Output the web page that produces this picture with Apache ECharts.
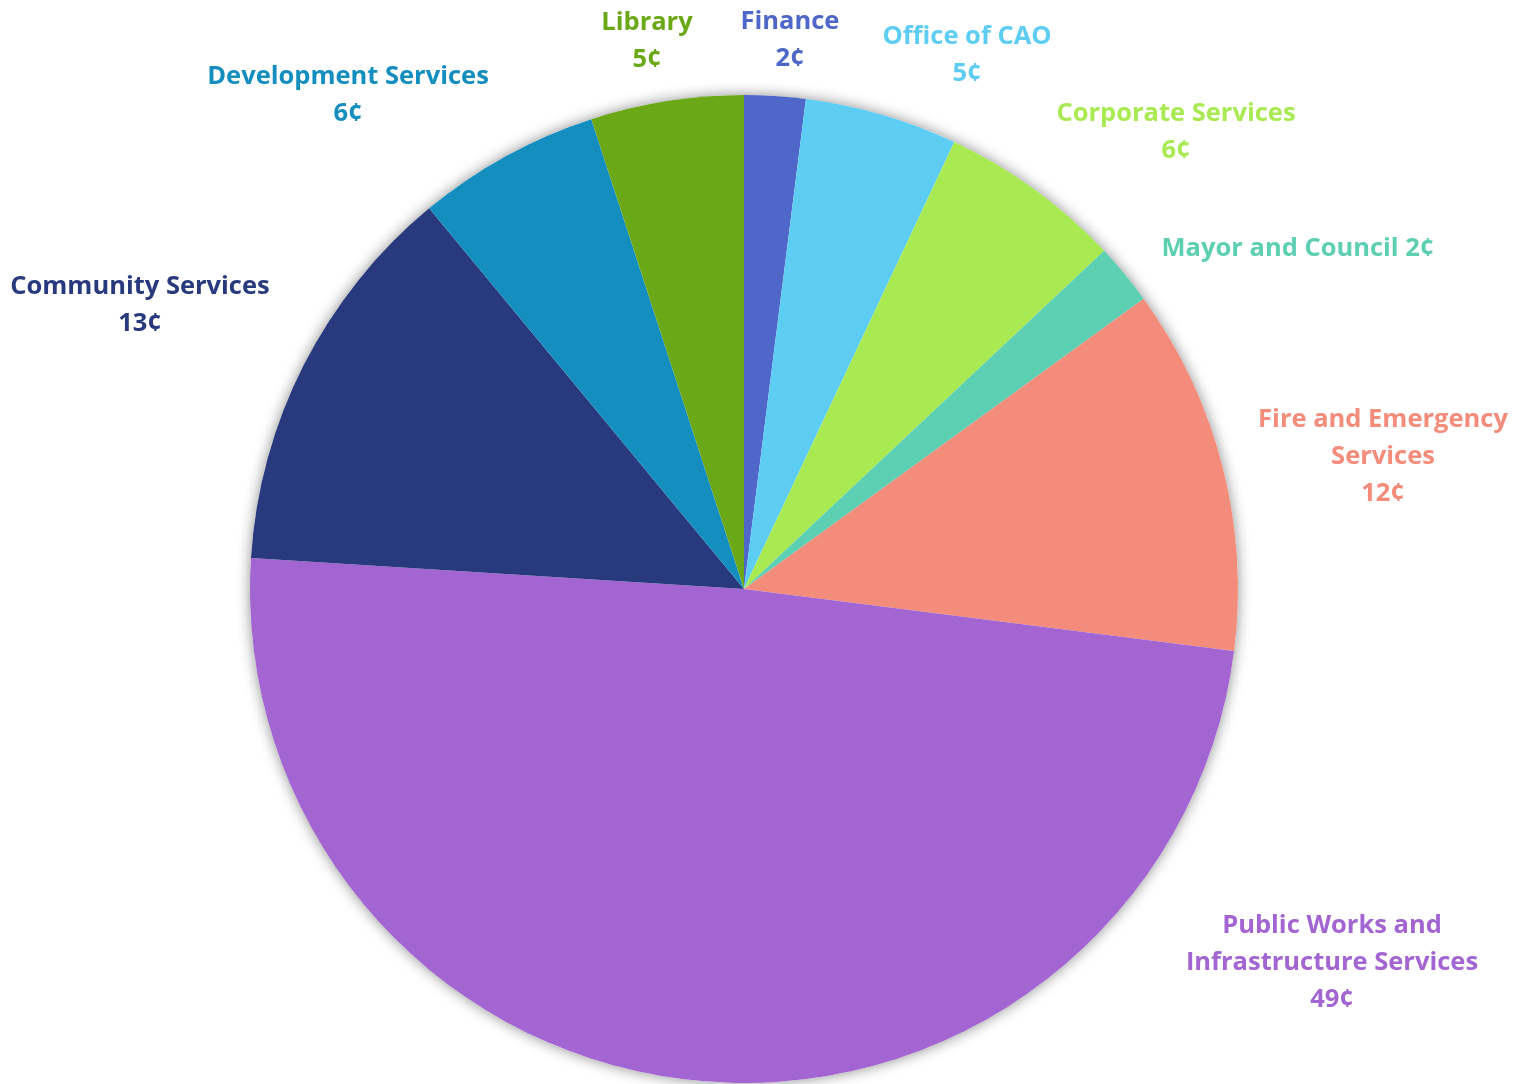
<!DOCTYPE html>
<html>
<head>
<meta charset="utf-8">
<script src="https://cdn.jsdelivr.net/npm/echarts@6/dist/echarts.min.js"></script>
<style>
html,body{margin:0;padding:0;background:#fff;}
#chart{width:1527px;height:1084px;}
</style>
</head>
<body>
<div id="chart"></div>
<script>
// Data
const categories = ["Finance","Office of CAO","Corporate Services","Mayor and Council","Fire and Emergency Services","Public Works and Infrastructure Services","Community Services","Development Services","Library"];
const values = [2,5,6,2,12,49,13,6,5];
const labelNames = ["Finance","Office of CAO","Corporate Services","Mayor and Council","Fire and Emergency\nServices","Public Works and\nInfrastructure Services","Community Services","Development Services","Library"];
const sliceColors = ["#4F67C9","#5DCDF3","#A9EA52","#5DCFB2","#F48C7B","#A365D1","#283A7D","#138EBE","#6BA818"];
// label anchor positions (px) — layout only
const labelPos = [[790,40],[967,55],[1176,132],[1298,249],[1383,457],[1332,963],[140,305],[348,95],[647,41]];

const chart = echarts.init(document.getElementById('chart'));
const fontFamily = '"Open Sans", Lato, sans-serif';
chart.setOption({
  animation:false,
  series:[
    {
      type:'pie', silent:true, center:[744,589], radius:494, z:1,
      label:{show:false}, labelLine:{show:false},
      itemStyle:{color:'#ffffff', shadowBlur:14, shadowColor:'rgba(0,0,0,0.45)'},
      data:[{value:1, name:'bg'}]
    },
    {
      type:'pie', center:[744,589], radius:494, startAngle:90, clockwise:true, z:2,
      avoidLabelOverlap:false,
      itemStyle:{borderWidth:0},
      labelLine:{show:false},
      label:{
        show:true, position:'outside', fontFamily:fontFamily, fontWeight:'bold', fontSize:25.5,
        lineHeight:37, align:'center',
        formatter:function(p){
          const i=p.dataIndex;
          if(i===3) return labelNames[i]+' '+values[i]+'¢';
          return labelNames[i]+'\n'+values[i]+'¢';
        }
      },
      labelLayout:function(p){
        const pos=labelPos[p.dataIndex];
        return {x:pos[0], y:pos[1], align:'center', verticalAlign:'middle'};
      },
      data:categories.map((c,i)=>({name:c, value:values[i], itemStyle:{color:sliceColors[i]}, label:{color:sliceColors[i]}}))
    }
  ]
});
</script>
</body>
</html>
